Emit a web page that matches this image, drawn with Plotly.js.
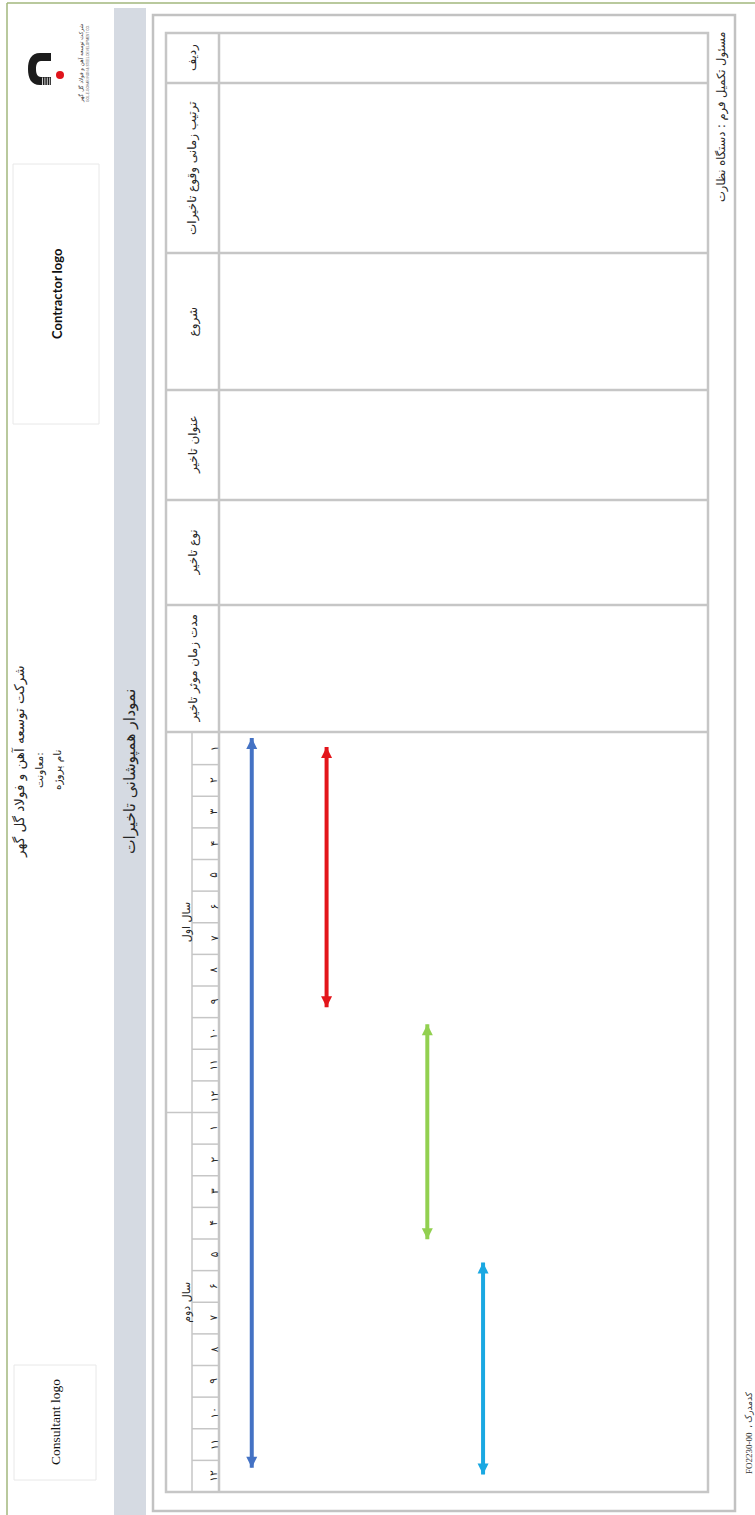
<!DOCTYPE html>
<html>
<head>
<meta charset="utf-8">
<script src="https://cdn.plot.ly/plotly-3.0.1.min.js"></script>
<style>
html,body{margin:0;padding:0;background:#ffffff;}
#chart{width:755px;height:1515px;}
</style>
</head>
<body>
<div id="chart"></div>
<script>
// ---------------- DATA ----------------
const yearLabels = ['سال اول', 'سال دوم'];
const monthLabels = ['۱','۲','۳','۴','۵','۶','۷','۸','۹','۱۰','۱۱','۱۲'];
const columnHeaders = ['ردیف', 'ترتیب زمانی وقوع تاخیرات', 'شروع', 'عنوان تاخیر', 'نوع تاخیر', 'مدت زمان موثر تاخیر'];
// delay arrows: lane (% across chart body), start month, end month (0 = start of year 1)
const delayLane = [6.7, 22.0, 42.6, 54.0];
const delayStartMonth = [0.16, 0.44, 9.21, 16.74];
const delayEndMonth = [23.23, 8.67, 16.01, 23.45];
const delayColors = ['#4472C4', '#E3151B', '#92D050', '#1AA8E2'];
const chartTitle = 'نمودار همپوشانی تاخیرات';
const companyName = 'شرکت توسعه آهن و فولاد گل گهر';
const deputyLabel = 'معاونت:';
const projectLabel = 'نام پروژه';
const contractorLogo = 'Contractor logo';
const consultantLogo = 'Consultant logo';
const footerResponsible = 'مسئول تکمیل فرم : دستگاه نظارت';
const footerCode = 'FO2230-00  ، کدمدرک';
const logoTextFa = 'شرکت توسعه آهن و فولاد گل گهر';
const logoTextEn = 'GOL-E-GOHAR IRON & STEEL DEVELOPMENT CO.';

// ---------------- LAYOUT HELPERS ----------------
const W = 755, H = 1515;
const X = v => v / W;
const Y = v => 1 - v / H;
const P = s => s.replace(/(-?[\d.]+),(-?[\d.]+)/g, (m, a, b) => X(+a) + ',' + Y(+b));

const FA = 'DejaVu Sans, Noto Sans, sans-serif';
const lineGray = '#C6C6C6';
const nMonths = monthLabels.length * yearLabels.length;

const shapes = [];
const annotations = [];

function rectPx(x0, y0, x1, y1, opts) {
  shapes.push(Object.assign({type: 'rect', xref: 'paper', yref: 'paper',
    x0: X(x0), x1: X(x1), y0: Y(y1), y1: Y(y0), layer: 'below'}, opts));
}
function linePx(x0, y0, x1, y1, color, width) {
  shapes.push({type: 'line', xref: 'paper', yref: 'paper', x0: X(x0), x1: X(x1),
    y0: Y(y0), y1: Y(y1), line: {color: color, width: width}, layer: 'below'});
}
function textPx(x, y, text, size, opts) {
  annotations.push(Object.assign({xref: 'paper', yref: 'paper', x: X(x), y: Y(y),
    text: text, showarrow: false, textangle: -90, xanchor: 'center', yanchor: 'middle',
    font: {family: FA, size: size, color: '#262626'}}, opts || {}));
}

// page frame (green, top + left)
linePx(7, 3, 755, 3, '#A2B77C', 1.5);
linePx(7, 3, 7, 1515, '#A2B77C', 1.5);

// header strip: gray band
rectPx(114, 8, 146, 1515, {fillcolor: '#D5DAE2', line: {width: 0}});

// logo boxes
rectPx(13, 164, 99, 424, {fillcolor: '#ffffff', line: {color: '#E8E8E8', width: 1}});
rectPx(14, 1365, 96, 1480, {fillcolor: '#ffffff', line: {color: '#E8E8E8', width: 1}});

// company logo (magnet shape + red ball)
shapes.push({type: 'path', xref: 'paper', yref: 'paper', layer: 'below',
  path: P('M 51,53 L 40,53 C 31,53 28,60 28,69 C 28,78 31,85 40,85 L 51,85 L 51,77 L 41,77 C 37,77 36,73 36,69 C 36,65 37,61 41,61 L 51,61 Z'),
  fillcolor: '#1c1c1c', line: {width: 0}});
for (let k = 0; k < 4; k++) {
  linePx(42.5 + k * 2.4, 77.5, 42.5 + k * 2.4, 85, '#ffffff', 0.8);
}
shapes.push({type: 'circle', xref: 'paper', yref: 'paper', layer: 'below',
  x0: X(56), x1: X(64), y0: Y(79), y1: Y(71), fillcolor: '#E0141B', line: {width: 0}});
textPx(81, 64, logoTextFa, 5.5, {font: {family: FA, size: 5.5, color: '#333'}});
textPx(88, 64, logoTextEn, 3.2, {font: {family: 'Liberation Sans, sans-serif', size: 3.2, color: '#555'}});

// header texts
textPx(19, 762, companyName, 13.5);
textPx(39, 770, deputyLabel, 10.5);
textPx(57, 770, projectLabel, 10.5);
textPx(130, 772, chartTitle, 15.5);
textPx(57, 294, contractorLogo, 13, {font: {family: 'Lato, Open Sans, sans-serif', size: 13, color: '#111', weight: 'bold'}});
textPx(55, 1422, consultantLogo, 13.5, {font: {family: 'Liberation Serif, serif', size: 13.5, color: '#111'}});

// footer texts
textPx(722, 117, footerResponsible, 11.5);
textPx(749, 1433, footerCode, 9, {font: {family: 'Liberation Serif, DejaVu Sans, serif', size: 9, color: '#333'}});

// outer frame + inner table
rectPx(153, 15, 735, 1511, {line: {color: '#C2C2C2', width: 2.5}});
rectPx(166, 33, 708, 1492, {line: {color: lineGray, width: 2.5}});
linePx(219, 33, 219, 1492, lineGray, 2.5);

// table row boundaries (rotated columns)
const headerEdges = [33, 83, 253, 390, 500, 605, 732];
for (let i = 1; i < headerEdges.length; i++) {
  linePx(166, headerEdges[i], 708, headerEdges[i], lineGray, 2.5);
}
columnHeaders.forEach((t, i) => {
  textPx(193, (headerEdges[i] + headerEdges[i + 1]) / 2, t, 12);
});

// gantt header: year column / month column
shapes.push({type: 'line', xref: 'paper', yref: 'y', x0: X(192), x1: X(192), y0: 0, y1: nMonths,
  line: {color: lineGray, width: 1.5}, layer: 'below'});
for (let i = 1; i < nMonths; i++) {
  const isYearEdge = (i % monthLabels.length === 0);
  shapes.push({type: 'line', xref: 'paper', yref: 'y', x0: X(isYearEdge ? 166 : 192), x1: X(219),
    y0: i, y1: i, line: {color: lineGray, width: 1.5}, layer: 'below'});
}
for (let i = 0; i < nMonths; i++) {
  annotations.push({xref: 'paper', yref: 'y', x: X(205.5), y: i + 0.5,
    text: monthLabels[i % monthLabels.length], showarrow: false, textangle: -90,
    font: {family: FA, size: 10.5, color: '#262626'}});
}
yearLabels.forEach((t, k) => {
  annotations.push({xref: 'paper', yref: 'y', x: X(178), y: (k + 0.5) * monthLabels.length,
    text: t, showarrow: false, textangle: -90, font: {family: FA, size: 11, color: '#262626'}});
});

// ---------------- TRACES (delay arrows) ----------------
const traces = delayLane.map((lane, i) => ({
  type: 'scatter', mode: 'lines+markers',
  x: [lane, lane], y: [delayStartMonth[i], delayEndMonth[i]],
  line: {color: delayColors[i], width: 4},
  marker: {symbol: ['arrow-up', 'arrow-down'], size: 11, color: delayColors[i], line: {width: 0}},
  hoverinfo: 'skip', showlegend: false, cliponaxis: false
}));

const layout = {
  width: W, height: H,
  margin: {l: 0, r: 0, t: 0, b: 0, pad: 0},
  paper_bgcolor: '#ffffff', plot_bgcolor: 'rgba(0,0,0,0)',
  showlegend: false,
  xaxis: {domain: [X(219), X(708)], range: [0, 100], visible: false, fixedrange: true},
  yaxis: {domain: [Y(1492), Y(733)], range: [nMonths, 0], visible: false, fixedrange: true},
  shapes: shapes,
  annotations: annotations
};

Plotly.newPlot('chart', traces, layout, {staticPlot: true, displayModeBar: false});
</script>
</body>
</html>
